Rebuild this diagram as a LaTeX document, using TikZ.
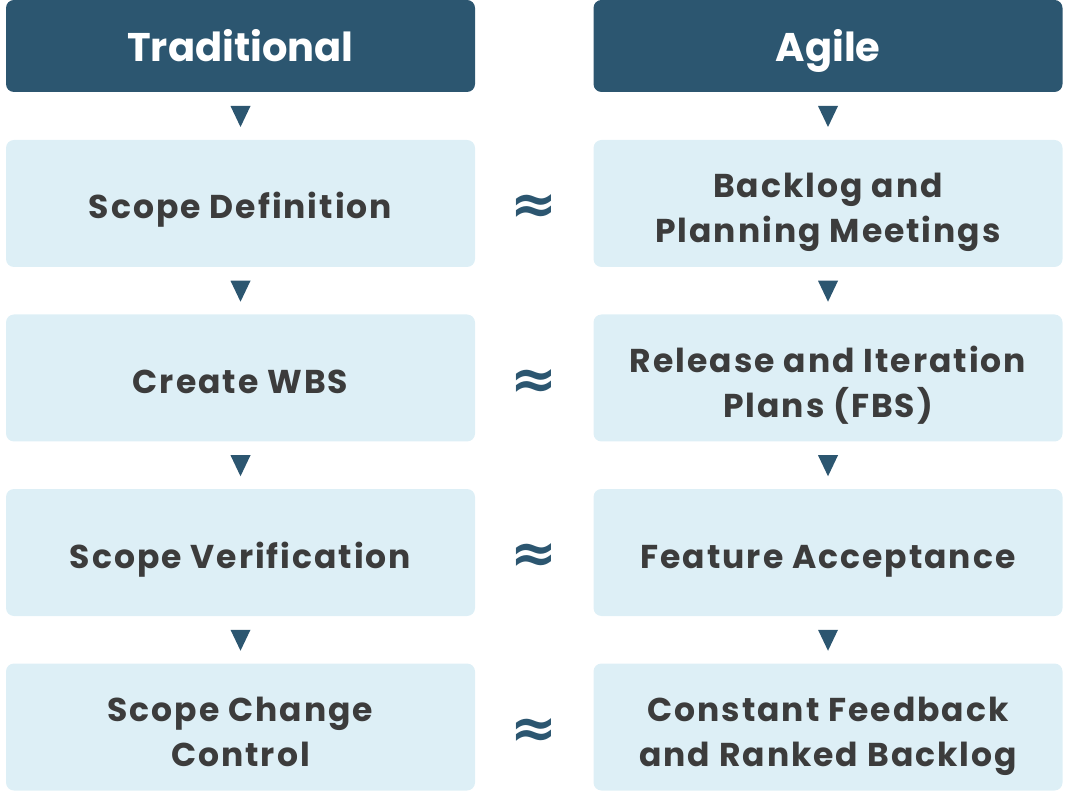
\documentclass[tikz,border=0pt]{standalone}
\usepackage{fontspec}
\setmainfont{Poppins}
\newfontfamily\approxfont{DejaVu Sans}
\usetikzlibrary{calc}
\definecolor{navy}{HTML}{2C5670}
\definecolor{paleblue}{HTML}{DDEFF6}
\definecolor{textgray}{HTML}{3C3C3C}

\begin{document}
\begin{tikzpicture}[x=1pt, y=1pt,
	head/.style={rectangle, rounded corners=8pt, fill=navy, text=white, minimum width=469pt, minimum height=92pt, text height=32pt, text depth=0pt, font=\fontsize{40}{46}\selectfont\bfseries},
	item/.style={rectangle, rounded corners=8pt, fill=paleblue, text=textgray, minimum width=469pt, minimum height=127pt, align=center, text height=31pt, text depth=0pt, font=\fontsize{33}{45}\selectfont\bfseries\addfontfeatures{LetterSpace=6}},
	item2/.style={item, text height=79pt},
	approx/.style={text=navy, inner sep=0pt, font=\approxfont\fontsize{56}{56}\selectfont\bfseries}]
	\useasboundingbox (0,0) rectangle (1067,793);
	% column heads
	\node[head] (T0) at (240.5,747) {Traditional};
	\node[head] (A0) at (828,747) {Agile};
	% traditional column
	\node[item] (T1) at (240.5,589.5) {Scope Definition};
	\node[item] (T2) at (240.5,415) {Create WBS};
	\node[item] (T3) at (240.5,240.5) {Scope Verification};
	\node[item2] (T4) at (240.5,66) {Scope Change\\Control};
	% agile column
	\node[item2] (A1) at (828,589.5) {Backlog and\\Planning Meetings};
	\node[item2] (A2) at (828,415) {Release and Iteration\\Plans (FBS)};
	\node[item] (A3) at (828,240.5) {Feature Acceptance};
	\node[item2] (A4) at (828,66) {Constant Feedback\\and Ranked Backlog};
	% arrows between steps
	\foreach \c in {T,A}{
	  \foreach \i [evaluate=\i as \j using int(\i+1)] in {0,...,3}{
	      \fill[navy] ($(\c\i.south)!0.5!(\c\j.north)$) +(-10,10) -- +(10,10) -- +(0,-11) -- cycle;
	  }}
	% equivalences
	\foreach \i in {1,...,4}{
	  \node[approx] (E\i) at ($(T\i.east)!0.5!(A\i.west) + (0,-6)$) {≈};
	}
\end{tikzpicture}
\end{document}
